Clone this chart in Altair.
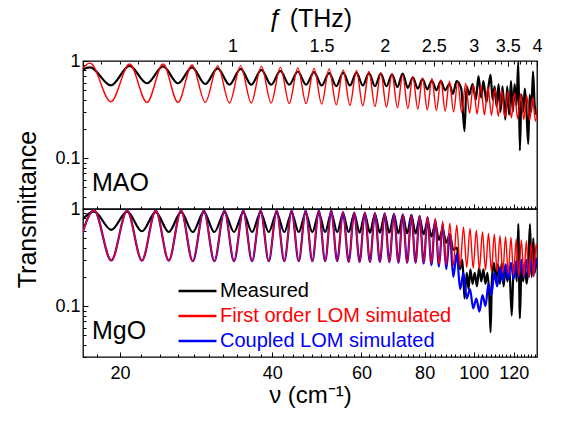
import altair as alt
import pandas as pd

FONT = "Liberation Sans"
SERIES = ["Measured", "First order LOM simulated", "Coupled LOM simulated"]
COLORS = ["black", "red", "blue"]

NU_DOMAIN = [16.9, 133.4]
THZ_DOMAIN = [16.9 / 33.356, 4.0]
T_DOMAIN = [0.03, 1.0]

NU_MAJOR = [20, 40, 60, 80, 100, 120]
NU_TICKS = [18, 20, 22, 24, 26, 28, 30, 32, 34, 36, 38, 40, 42, 44, 46, 48, 50,
            52, 54, 56, 58, 60, 62, 64, 66, 68, 70, 72, 74, 76, 78, 80, 82, 84,
            86, 88, 90, 92, 94, 96, 98, 100, 102, 104, 106, 108, 110, 112, 114,
            116, 118, 120, 122, 124, 126, 128, 130, 132]
THZ_MAJOR = [1, 1.5, 2, 2.5, 3, 3.5, 4]
THZ_TICKS = [0.55, 0.6, 0.65, 0.7, 0.75, 0.8, 0.85, 0.9, 0.95, 1, 1.1, 1.2, 1.3,
             1.4, 1.5, 1.6, 1.7, 1.8, 1.9, 2, 2.1, 2.2, 2.3, 2.4, 2.5, 2.6, 2.7,
             2.8, 2.9, 3, 3.1, 3.2, 3.3, 3.4, 3.5, 3.6, 3.7, 3.8, 3.9, 4]
T_MAJOR = [0.1, 1]
T_TICKS = [0.03, 0.04, 0.05, 0.06, 0.07, 0.08, 0.09, 0.1, 0.2, 0.3, 0.4, 0.5,
           0.6, 0.7, 0.8, 0.9, 1]

# ---------------- MAO panel ----------------
MAO_PEAK_NU = [17.46, 20.89, 24.33, 27.76, 31.19, 34.63, 38.06, 41.49, 44.92, 48.36,
               51.79, 55.22, 58.66, 62.09, 65.52, 68.96, 72.39, 75.82, 79.25, 82.69,
               86.12, 89.55, 92.99, 96.42, 99.85, 103.28, 106.72, 110.15, 113.58, 117.01,
               120.45, 123.88, 127.31, 130.74, 134.17]
MAO_TROUGH_NU = [15.74, 19.18, 22.61, 26.04, 29.48, 32.91, 36.34, 39.78, 43.21, 46.64,
                 50.07, 53.51, 56.94, 60.37, 63.81, 67.24, 70.67, 74.11, 77.54, 80.97,
                 84.40, 87.84, 91.27, 94.70, 98.13, 101.57, 105.00, 108.43, 111.87, 115.30,
                 118.73, 122.16, 125.59, 129.03, 132.46]
MAO_FIRST_PEAK = [0.95, 0.93, 0.93, 0.91, 0.89, 0.89, 0.88, 0.86, 0.85, 0.84,
                  0.83, 0.81, 0.80, 0.78, 0.76, 0.74, 0.72, 0.69, 0.67, 0.66,
                  0.64, 0.62, 0.61, 0.59, 0.57, 0.56, 0.54, 0.52, 0.50, 0.49,
                  0.47, 0.46, 0.44, 0.42, 0.41]
MAO_FIRST_TROUGH = [0.38, 0.38, 0.375, 0.375, 0.375, 0.37, 0.37, 0.37, 0.365, 0.365,
                    0.36, 0.355, 0.35, 0.345, 0.34, 0.335, 0.33, 0.325, 0.32, 0.315,
                    0.31, 0.305, 0.30, 0.295, 0.29, 0.285, 0.28, 0.275, 0.27, 0.265,
                    0.26, 0.255, 0.25, 0.245, 0.24]
MAO_MEAS_NU = [15.74, 17.46, 19.18, 20.89, 22.61, 24.33, 26.04, 27.76, 29.48, 31.19,
               32.91, 34.63, 36.34, 38.06, 39.78, 41.49, 43.21, 44.92, 46.64, 48.36,
               50.07, 51.79, 53.51, 55.22, 56.94, 58.66, 60.37, 62.09, 63.81, 65.52,
               67.24, 68.96, 70.67, 72.39, 74.11, 75.82, 77.54, 79.25, 80.97, 82.69,
               84.40, 86.12, 87.84, 89.55,
               91.0, 92.5, 94.5, 95.9, 96.8, 98.0, 99.5, 101.0, 102.2, 103.5,
               104.5, 106.0, 107.0, 108.0, 109.0, 110.0, 111.0, 112.0, 113.0, 114.0,
               115.5, 116.5, 117.5, 118.5, 119.5, 120.5, 121.5, 122.5, 123.4, 124.3,
               125.3, 126.2, 127.0, 128.2, 129.0, 130.0, 131.0, 132.0, 133.0]
MAO_MEAS_T = [0.60, 0.86, 0.56, 0.89, 0.59, 0.88, 0.59, 0.86, 0.58, 0.84,
              0.57, 0.83, 0.57, 0.81, 0.57, 0.79, 0.57, 0.78, 0.57, 0.77,
              0.56, 0.75, 0.55, 0.76, 0.56, 0.76, 0.56, 0.75, 0.55, 0.74,
              0.55, 0.73, 0.54, 0.74, 0.53, 0.68, 0.52, 0.65, 0.51, 0.63,
              0.50, 0.62, 0.50, 0.58,
              0.46, 0.62, 0.52, 0.19, 0.55, 0.45, 0.58, 0.40, 0.70, 0.42,
              0.62, 0.38, 0.55, 0.72, 0.40, 0.55, 0.34, 0.58, 0.30, 0.55,
              0.25, 0.55, 0.28, 0.62, 0.30, 0.58, 0.35, 0.98, 0.12, 0.45,
              0.30, 0.52, 0.35, 0.14, 0.45, 0.30, 0.78, 0.35, 0.28]

# ---------------- MgO panel ----------------
MGO_PEAK_NU = [17.78, 20.66, 23.53, 26.41, 29.29, 32.17, 35.04, 37.92, 40.80, 43.67,
               46.55, 49.43, 52.30, 55.18, 58.06, 60.94, 63.81, 66.69, 69.57, 72.44,
               75.32, 78.20, 81.07, 83.95, 86.83, 89.71, 92.58, 95.46, 98.34, 101.21,
               104.09, 106.97, 109.84, 112.72, 115.60, 118.48, 121.35, 124.23, 127.11, 129.98,
               132.86]
MGO_TROUGH_NU = [16.34, 19.22, 22.10, 24.97, 27.85, 30.73, 33.60, 36.48, 39.36, 42.24,
                 45.11, 47.99, 50.87, 53.74, 56.62, 59.50, 62.37, 65.25, 68.13, 71.01,
                 73.88, 76.76, 79.64, 82.51, 85.39, 88.27, 91.14, 94.02, 96.90, 99.77,
                 102.65, 105.53, 108.41, 111.28, 114.16, 117.04, 119.91, 122.79, 125.67, 128.55,
                 131.42, 134.30]
MGO_FIRST_PEAK = [0.97, 0.96, 0.96, 0.96, 0.96, 0.96, 0.96, 0.96, 0.96, 0.96,
                  0.96, 0.96, 0.96, 0.93, 0.92, 0.92, 0.91, 0.90, 0.89, 0.88,
                  0.87, 0.86, 0.84, 0.80, 0.75, 0.71, 0.68, 0.65, 0.63, 0.60,
                  0.58, 0.56, 0.55, 0.53, 0.52, 0.51, 0.49, 0.48, 0.47, 0.45,
                  0.44]
MGO_FIRST_TROUGH = [0.30, 0.295, 0.295, 0.295, 0.29, 0.29, 0.29, 0.29, 0.29, 0.29,
                    0.29, 0.29, 0.29, 0.29, 0.285, 0.285, 0.285, 0.285, 0.285, 0.28,
                    0.28, 0.28, 0.28, 0.275, 0.27, 0.265, 0.26, 0.255, 0.25, 0.245,
                    0.24, 0.235, 0.23, 0.225, 0.22, 0.215, 0.21, 0.205, 0.20, 0.20,
                    0.20, 0.20]
MGO_COUPLED_PEAK = [0.97, 0.96, 0.96, 0.96, 0.96, 0.96, 0.96, 0.96, 0.96, 0.96,
                    0.96, 0.96, 0.96, 0.93, 0.92, 0.92, 0.91, 0.90, 0.89, 0.88,
                    0.87, 0.85, 0.82, 0.77, 0.70, 0.55, 0.35, 0.22, 0.15, 0.12,
                    0.13, 0.17, 0.22, 0.25, 0.27, 0.28, 0.29, 0.30, 0.30, 0.31,
                    0.31]
MGO_COUPLED_TROUGH = [0.30, 0.295, 0.295, 0.295, 0.29, 0.29, 0.29, 0.29, 0.29, 0.29,
                      0.29, 0.29, 0.29, 0.29, 0.285, 0.285, 0.285, 0.285, 0.285, 0.28,
                      0.28, 0.28, 0.275, 0.265, 0.255, 0.24, 0.20, 0.15, 0.12, 0.095,
                      0.088, 0.10, 0.13, 0.16, 0.18, 0.19, 0.19, 0.20, 0.20, 0.20,
                      0.21, 0.21]
MGO_MEAS_NU = [16.34, 17.78, 19.22, 20.66, 22.10, 23.53, 24.97, 26.41, 27.85, 29.29,
               30.73, 32.17, 33.60, 35.04, 36.48, 37.92, 39.36, 40.80, 42.24, 43.67,
               45.11, 46.55, 47.99, 49.43, 50.87, 52.30, 53.74, 55.18, 56.62, 58.06,
               59.50, 60.94, 62.37, 63.81, 65.25, 66.69, 68.13, 69.57, 71.01, 72.44,
               73.88, 75.32, 76.76, 78.20,
               79.64, 81.07, 82.51, 83.95, 85.39, 86.83, 88.27, 89.71, 91.14, 92.6,
               94.0, 95.0, 95.9, 96.9, 97.7, 98.5, 99.5, 100.5, 101.5, 102.5,
               103.5, 104.5, 105.5, 106.5, 107.4, 108.0, 108.7, 109.7, 110.7, 111.7,
               112.7, 113.6, 114.6, 115.6, 116.6, 117.6, 118.9, 119.8, 120.8, 121.7,
               122.5, 123.4, 124.3, 125.3, 126.2, 127.2, 128.2, 129.2, 130.2, 131.2,
               132.0, 133.0]
MGO_MEAS_T = [0.62, 0.94, 0.61, 0.94, 0.59, 0.93, 0.58, 0.93, 0.58, 0.93,
              0.58, 0.92, 0.58, 0.92, 0.58, 0.92, 0.58, 0.91, 0.58, 0.91,
              0.58, 0.90, 0.58, 0.90, 0.58, 0.90, 0.58, 0.89, 0.58, 0.89,
              0.57, 0.88, 0.57, 0.88, 0.57, 0.87, 0.57, 0.87, 0.56, 0.86,
              0.56, 0.86, 0.56, 0.80,
              0.55, 0.75, 0.52, 0.70, 0.48, 0.62, 0.45, 0.55, 0.38, 0.40,
              0.24, 0.30, 0.12, 0.22, 0.15, 0.24, 0.17, 0.22, 0.16, 0.25,
              0.18, 0.24, 0.17, 0.22, 0.12, 0.054, 0.20, 0.28, 0.18, 0.27,
              0.17, 0.28, 0.16, 0.26, 0.18, 0.25, 0.08, 0.22, 0.28, 0.18,
              0.70, 0.075, 0.25, 0.18, 0.28, 0.17, 0.25, 0.70, 0.20, 0.50,
              0.22, 0.30]


def curve(nu_a, t_a, nu_b, t_b, name):
    a = pd.DataFrame({"nu": nu_a, "T": t_a})
    if nu_b is not None:
        b = pd.DataFrame({"nu": nu_b, "T": t_b})
        a = pd.concat([a, b], ignore_index=True)
    a = a.sort_values("nu").reset_index(drop=True)
    a["series"] = name
    return a


mao_meas = curve(MAO_MEAS_NU, MAO_MEAS_T, None, None, SERIES[0])
mao_first = curve(MAO_PEAK_NU, MAO_FIRST_PEAK, MAO_TROUGH_NU, MAO_FIRST_TROUGH, SERIES[1])
mgo_meas = curve(MGO_MEAS_NU, MGO_MEAS_T, None, None, SERIES[0])
mgo_first = curve(MGO_PEAK_NU, MGO_FIRST_PEAK, MGO_TROUGH_NU, MGO_FIRST_TROUGH, SERIES[1])
mgo_coupled = curve(MGO_PEAK_NU, MGO_COUPLED_PEAK, MGO_TROUGH_NU, MGO_COUPLED_TROUGH, SERIES[2])

W, H = 454, 148

x_scale = alt.Scale(type="log", domain=NU_DOMAIN, nice=False)
y_scale = alt.Scale(type="log", domain=T_DOMAIN, nice=False)
color_scale = alt.Scale(domain=SERIES, range=COLORS)

LABEL_STYLE = dict(labelFont=FONT, labelFontSize=18, labelColor="black",
                   tickColor="black", tickWidth=1, titleFont=FONT, titleFontSize=25,
                   titleFontWeight="normal", titleColor="black")


def major_expr(values, big, small):
    arr = "[" + ",".join(str(v) for v in values) + "]"
    return {"expr": f"indexof({arr}, datum.value) >= 0 ? {big} : {small}"}


def label_expr(values):
    arr = "[" + ",".join(str(v) for v in values) + "]"
    return f"indexof({arr}, datum.value) >= 0 ? format(datum.value, '~g') : ''"


def x_axis(labels, title=None):
    kw = dict(values=NU_TICKS, tickSize=major_expr(NU_MAJOR, -5, -3),
              labelPadding=12, labelFlush=False, labelOverlap=False,
              orient="bottom", grid=False, domain=False, **LABEL_STYLE)
    if labels:
        kw.update(labelExpr=label_expr(NU_MAJOR))
    else:
        kw.update(labels=False)
    if title:
        kw.update(title=title, titleY=45, titleBaseline="alphabetic", titleFontSize=24)
    else:
        kw.update(title=None)
    return alt.Axis(**kw)


def y_axis(title=None):
    kw = dict(values=T_TICKS, tickSize=major_expr(T_MAJOR, -5, -3),
              labelExpr=label_expr(T_MAJOR), labelPadding=8,
              labelOverlap=False, grid=False, domain=False, **LABEL_STYLE)
    if title:
        kw.update(title=title, titleX=-56, titleY=H, titleBaseline="middle",
                  titleAngle=270, titleAlign="center")
    else:
        kw.update(title=None)
    return alt.Axis(**kw)


def line(df, width, xaxis, yaxis, legend):
    return alt.Chart(df).mark_line(strokeWidth=width, interpolate="monotone", clip=True).encode(
        x=alt.X("nu:Q", scale=x_scale, axis=xaxis),
        y=alt.Y("T:Q", scale=y_scale, axis=yaxis),
        color=alt.Color("series:N", scale=color_scale, legend=legend),
        order=alt.Order("nu:Q"),
    )


def panel_label(text):
    return alt.Chart(pd.DataFrame({"label": [text]})).mark_text(
        align="left", baseline="alphabetic", fontSize=25, font=FONT, color="black"
    ).encode(text="label:N", x=alt.value(9), y=alt.value(130))


thz_df = pd.DataFrame({"f": THZ_MAJOR})
thz_layer = alt.Chart(thz_df).mark_point(opacity=0).encode(
    x=alt.X("f:Q", scale=alt.Scale(type="log", domain=THZ_DOMAIN, nice=False),
            axis=alt.Axis(orient="top", values=THZ_TICKS,
                          tickSize=major_expr(THZ_MAJOR, -5, -3),
                          labelExpr=label_expr(THZ_MAJOR), labelPadding=11,
                          labelFlush=False, labelOverlap=False, grid=False, domain=False,
                          title="ƒ (THz)", titleY=-35, titleBaseline="alphabetic",
                          **LABEL_STYLE)),
    y=alt.value(0),
)

top_lines = alt.layer(
    line(mao_meas, 2.2, x_axis(False), y_axis("Transmittance"), None),
    line(mao_first, 1.4, x_axis(False), y_axis("Transmittance"), None),
)
top = alt.layer(top_lines, thz_layer, panel_label("MAO")).resolve_scale(
    x="independent").properties(width=W, height=H)

legend = alt.Legend(
    title=None, orient="none", legendX=94, legendY=72, symbolType="stroke",
    symbolSize=1440, symbolStrokeWidth=2.5, labelFontSize=20, labelFont=FONT,
    clipHeight=20, rowPadding=5, labelOffset=2, padding=0, labelLimit=0,
    labelColor={"expr": "datum.value == 'Measured' ? 'black' : (datum.value == 'Coupled LOM simulated' ? 'blue' : 'red')"},
)

bottom = alt.layer(
    line(mgo_meas, 2.2, x_axis(True, "ν (cm⁻¹)"), y_axis(), legend),
    line(mgo_coupled, 2.2, x_axis(True, "ν (cm⁻¹)"), y_axis(), legend),
    line(mgo_first, 1.4, x_axis(True, "ν (cm⁻¹)"), y_axis(), legend),
    panel_label("MgO"),
).properties(width=W, height=H)

chart = alt.vconcat(top, bottom, spacing=0, bounds="flush").resolve_legend(
    color="independent").properties(
    padding={"left": 14, "top": 5, "right": 5, "bottom": 5}
).configure_view(stroke="black", strokeWidth=1.3)

chart.save("out.html", embed_options={"renderer": "svg", "actions": False})
